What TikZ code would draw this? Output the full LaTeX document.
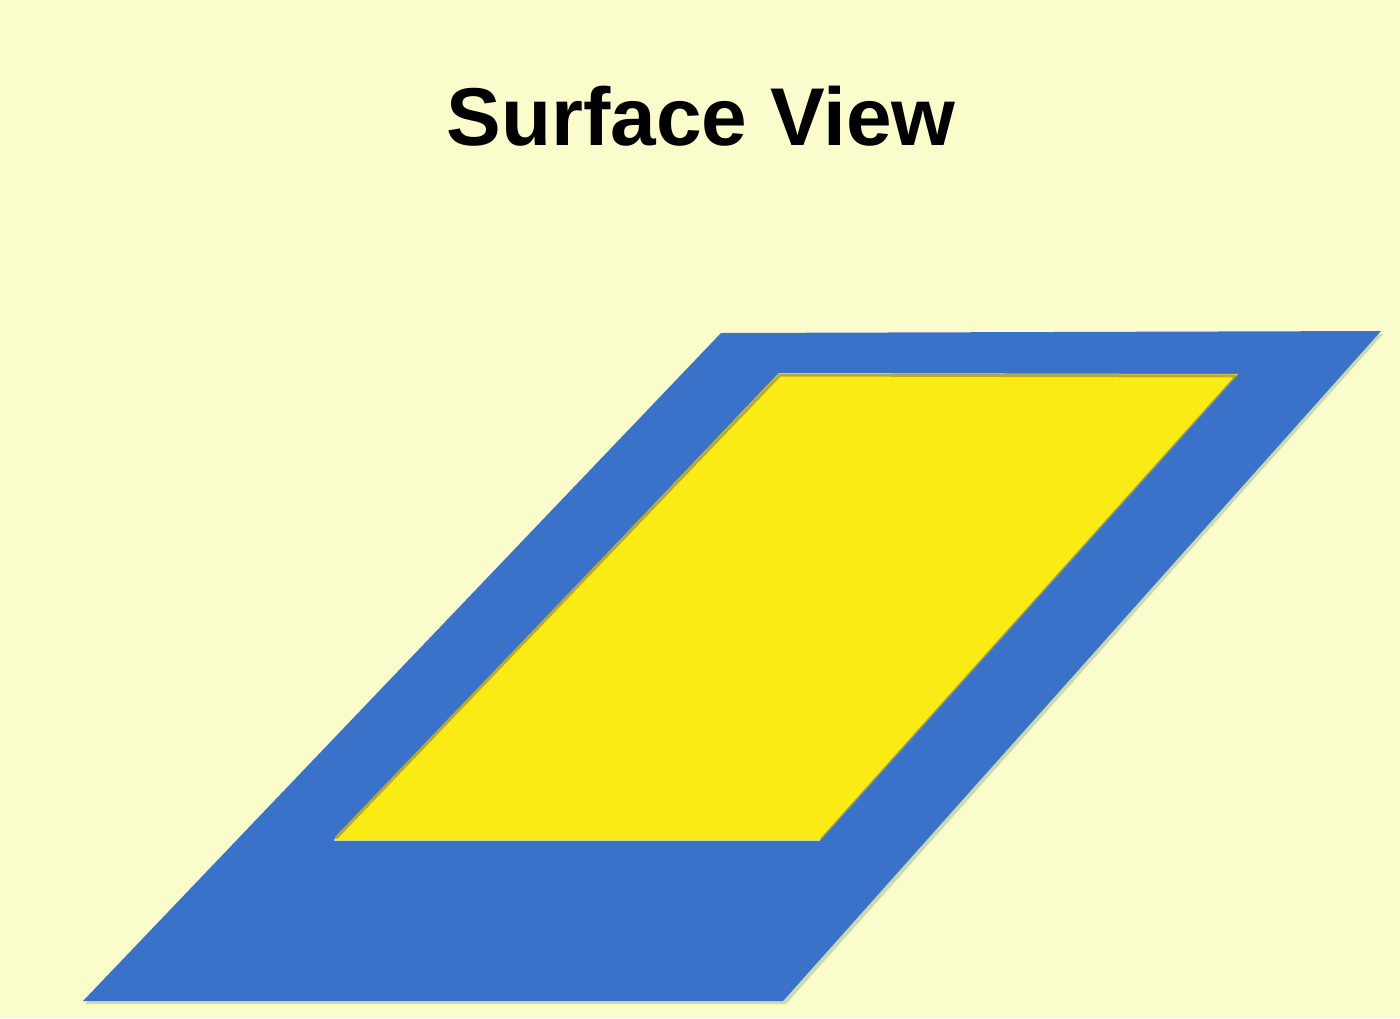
\documentclass[tikz,border=0pt]{standalone}
\usepackage{fontspec}
\setmainfont{Liberation Sans}
\definecolor{bgc}{HTML}{FAFDCB}
\definecolor{bluec}{HTML}{3A71C9}
\definecolor{yelc}{HTML}{FBEB14}
\definecolor{shadec}{HTML}{B5A93A}
\definecolor{lshade}{HTML}{C9D9B0}
\begin{document}
\begin{tikzpicture}[x=1pt,y=-1pt,
  frame/.style={fill=bluec},
  window/.style={fill=yelc},
  titletext/.style={font=\fontsize{82}{88}\selectfont\bfseries, text=black, anchor=base, inner sep=0pt}]
\fill[bgc] (0,0) rectangle (1400,1018);
\useasboundingbox (0,0) rectangle (1400,1018);
\node[titletext] (title) at (701,145) {Surface View};
% outer parallelogram with faint light shadow
\fill[lshade] (85,1004) -- (723,336) -- (1383,334) -- (786,1004) -- cycle;
\fill[frame] (83,1001) -- (721,333) -- (1381,331) -- (783,1001) -- cycle;
% inner window
\fill[window] (334,840) -- (779,373) -- (1238,374) -- (820,840) -- cycle;
\draw[shadec, line width=3pt, line join=round] (336,838) -- (780,375) -- (1236,376);
\draw[shadec!70!bluec, line width=1.5pt] (1236,376) -- (821,839);
\draw[lshade, line width=1pt] (334,840.5) -- (820,840.5);
\end{tikzpicture}
\end{document}
